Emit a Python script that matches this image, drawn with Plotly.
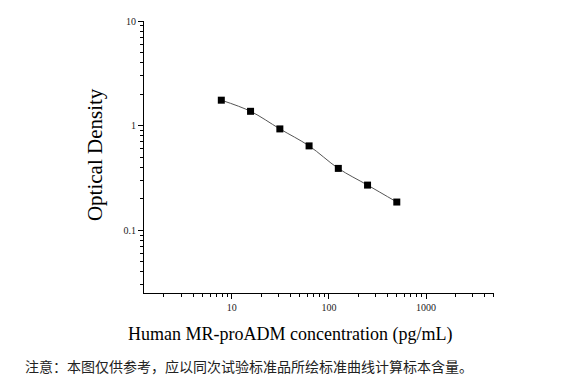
import plotly.graph_objects as go

conc = [7.8, 15.6, 31.25, 62.5, 125, 250, 500]
od = [1.75, 1.37, 0.93, 0.64, 0.39, 0.27, 0.186]
x_title = "Human MR-proADM concentration (pg/mL)"
y_title = "Optical Density"
note = "注意：本图仅供参考，应以同次试验标准品所绘标准曲线计算标本含量。"

fig = go.Figure()
fig.add_trace(go.Scatter(x=conc, y=od, mode="lines", line=dict(color="#555555", width=1, shape="spline"),
                         hoverinfo="skip", showlegend=False))
fig.add_trace(go.Scatter(x=conc, y=od, mode="markers",
                         marker=dict(symbol="square", size=7, color="black"), showlegend=False))

serif = "Liberation Serif, Times New Roman, serif"
axis_common = dict(type="log", showgrid=False, zeroline=False, showline=True, linecolor="black", linewidth=1.2,
                   ticks="outside", ticklen=5, tickwidth=1, tickcolor="black",
                   tickfont=dict(family=serif, size=10, color="#222"),
                   minor=dict(ticks="outside", ticklen=3, tickcolor="black", tickwidth=1, dtick="D1", showgrid=False))
fig.update_xaxes(range=[0.096, 3.70], tickvals=[10, 100, 1000], ticktext=["10", "100", "1000"], **axis_common)
fig.update_yaxes(range=[-1.6, 1.0], tickvals=[0.1, 1, 10], ticktext=["0.1", "1", "10"], **axis_common)

# page has 8px body margin; figure placed at (8, 8)
OFF = 8
W, H = 570, 370
l, t = 144 - OFF, 15 - OFF
pw, ph = 350, 278
r, b = W - l - pw, H - t - ph


def px2paper(px, py):
    return (px - OFF - l) / pw, 1 - (py - OFF - t) / ph


ax, ay = px2paper(290, 335)
yx, yy = px2paper(95, 152)
nx, ny = px2paper(23, 368)
fig.update_layout(
    width=W, height=H,
    margin=dict(l=l, r=r, t=t, b=b),
    plot_bgcolor="white", paper_bgcolor="white",
    annotations=[
        dict(text=x_title, x=ax, y=ay, xref="paper", yref="paper", showarrow=False,
             xanchor="center", yanchor="middle",
             font=dict(family=serif, size=18, color="black")),
        dict(text=y_title, x=yx, y=yy, xref="paper", yref="paper", textangle=-90, showarrow=False,
             xanchor="center", yanchor="middle",
             font=dict(family=serif, size=21, color="black")),
        dict(text=note, x=nx, y=ny, xref="paper", yref="paper", showarrow=False,
             xanchor="left", yanchor="middle",
             font=dict(family="Noto Sans CJK SC", size=14, color="#222222")),
    ],
)
fig.write_html("out.html")
